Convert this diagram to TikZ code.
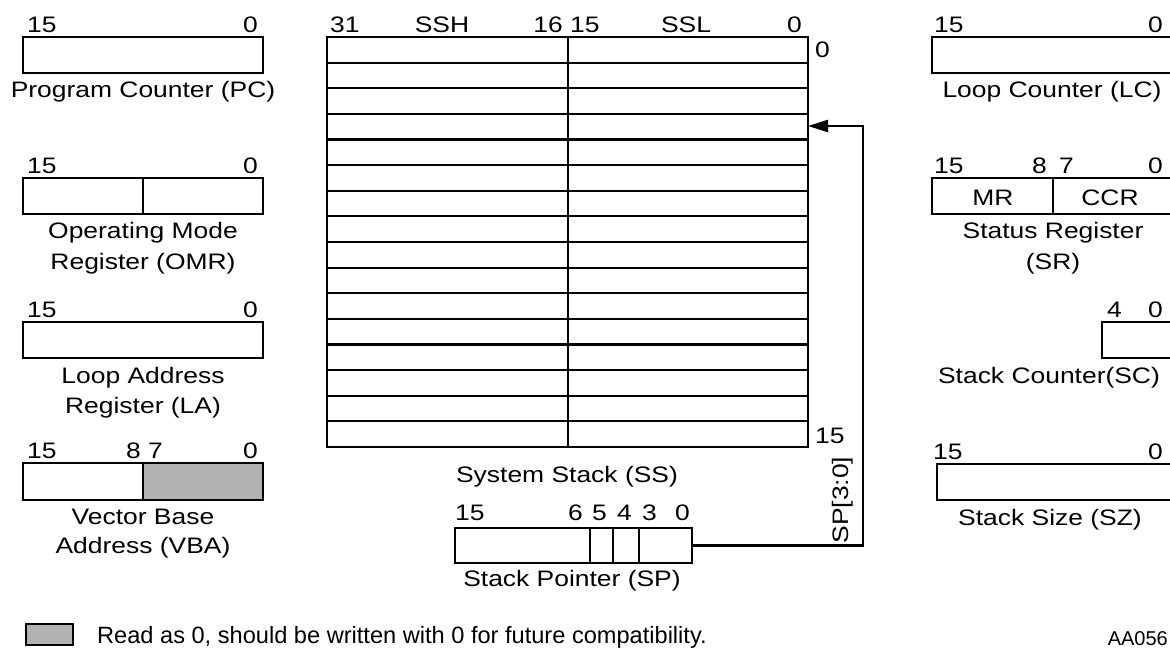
\documentclass[tikz,border=0pt]{standalone}
\usepackage{fontspec}
\setmainfont{Liberation Sans}[FakeStretch=1.18]
\newfontfamily\plainfont{Liberation Sans}
\usetikzlibrary{arrows.meta}
\definecolor{rdzero}{gray}{0.7}
\newcommand{\lab}{\fontsize{22.4}{26}\selectfont}
\tikzset{
  reg/.style={draw, line width=2.2pt, inner sep=0pt, outer sep=0pt, minimum height=36pt, anchor=north west},
  num/.style={inner sep=0pt, font=\lab},
  numl/.style={num, anchor=base west},
  numr/.style={num, anchor=base east},
  numc/.style={num, anchor=base},
  lbl/.style={inner sep=0pt, font=\lab, anchor=base},
  wire/.style={line width=2.2pt},
  conn/.style={line width=2.2pt, -{Triangle[length=20pt,width=12pt]}},
}
\begin{document}
\begin{tikzpicture}[x=1pt,y=-1pt]
\useasboundingbox (0,0) rectangle (1170,648);
\clip (0,0) rectangle (1170,648);
\fill[white] (0,0) rectangle (1170,648);

% ---------- left column ----------
% PC
\node[reg, minimum width=240pt] (pc) at (23,37) {};
\node[numl] (pc15) at (27,32) {15};
\node[numr] (pc0) at (258,32) {0};
\node[lbl] (pcl) at (143,97) {Program Counter (PC)};
% OMR
\node[reg, minimum width=240pt] (omr) at (23,178) {};
\draw[wire] (omr.north) -- (omr.south);
\node[numl] (omr15) at (27,173) {15};
\node[numr] (omr0) at (258,173) {0};
\node[lbl] (omrl1) at (143,238) {Operating Mode};
\node[lbl] (omrl2) at (143,269) {Register (OMR)};
% LA
\node[reg, minimum width=240pt] (la) at (23,322) {};
\node[numl] (la15) at (27,317) {15};
\node[numr] (la0) at (258,317) {0};
\node[lbl] (lal1) at (143,383) {Loop Address};
\node[lbl] (lal2) at (143,413) {Register (LA)};
% VBA
\fill[rdzero] (143,463) rectangle (263,500);
\node[reg, minimum width=240pt, minimum height=37pt] (vba) at (23,463) {};
\draw[wire] (vba.north) -- (vba.south);
\node[numl] (vba15) at (27,458) {15};
\node[numr] (vba8) at (141,458) {8};
\node[numl] (vba7) at (148,458) {7};
\node[numr] (vba0) at (258,458) {0};
\node[lbl] (vbal1) at (143,524) {Vector Base};
\node[lbl] (vbal2) at (143,553) {Address (VBA)};

% ---------- system stack ----------
\node[reg, minimum width=481pt, minimum height=410pt] (ss) at (327,37) {};
\foreach \k in {1,...,15} {
  \draw[wire] (327,{37+\k*25.625}) -- (808,{37+\k*25.625});
}
\draw[wire] (568,37) -- (568,447);
\node[numl] (ss31) at (330,32) {31};
\node[numc] (ssh) at (442,32) {SSH};
\node[numr] (ss16) at (563,32) {16};
\node[numl] (ss15) at (570,32) {15};
\node[numc] (ssl) at (686,32) {SSL};
\node[numr] (ss0) at (802,32) {0};
\node[numl] (row0) at (815,57) {0};
\node[numl] (row15) at (815,443) {15};
\node[lbl] (ssl1) at (567,482) {System Stack (SS)};

% ---------- stack pointer ----------
\node[reg, minimum width=237pt, minimum height=35pt] (sp) at (455,528) {};
\draw[wire] (590,528) -- (590,563);
\draw[wire] (613,528) -- (613,563);
\draw[wire] (639,528) -- (639,563);
\node[numl] (sp15) at (455,520) {15};
\node[numr] (sp6) at (583,520) {6};
\node[numr] (sp5) at (607,520) {5};
\node[numr] (sp4) at (632,520) {4};
\node[numr] (sp3) at (657,520) {3};
\node[numr] (sp0) at (690,520) {0};
\node[lbl] (spl) at (572,586) {Stack Pointer (SP)};

% connector SP -> SS
\coordinate (turn) at (863,126);
\coordinate (ssin) at (808,126);
\draw[conn] (sp.east) -| (turn) -- (ssin);
\node[num, rotate=90] (spbits) at (843,500) {SP[3:0]};

% ---------- right column ----------
% LC
\node[reg, minimum width=240pt] (lc) at (932,37) {};
\node[numl] (lc15) at (934,32) {15};
\node[numr] (lc0) at (1163,32) {0};
\node[lbl] (lcl) at (1052,97) {Loop Counter (LC)};
% SR
\node[reg, minimum width=240pt] (sr) at (932,178) {};
\draw[wire] (1053,178) -- (1053,214);
\node[numl] (sr15) at (934,173) {15};
\node[numr] (sr8) at (1047,173) {8};
\node[numl] (sr7) at (1059,173) {7};
\node[numr] (sr0) at (1163,173) {0};
\node[lbl] (mr) at (993,205) {MR};
\node[lbl] (ccr) at (1110,205) {CCR};
\node[lbl] (srl1) at (1053,238) {Status Register};
\node[lbl] (srl2) at (1053,269) {(SR)};
% SC
\node[reg, minimum width=72pt] (sc) at (1102,322) {};
\node[numl] (sc4) at (1107,317) {4};
\node[numr] (sc0) at (1163,317) {0};
\node[lbl] (scl) at (1049,383) {Stack Counter(SC)};
% SZ
\node[reg, minimum width=240pt] (sz) at (937,464) {};
\node[numl] (sz15) at (933,459) {15};
\node[numr] (sz0) at (1163,459) {0};
\node[lbl] (szl) at (1050,525) {Stack Size (SZ)};

% ---------- legend ----------
\node[draw, fill=rdzero, line width=2.2pt, inner sep=0pt, minimum width=47pt, minimum height=21pt, anchor=north west] (leg) at (25,623) {};
\node[inner sep=0pt, anchor=base west, font=\plainfont\fontsize{23.6}{27}\selectfont] (legt) at (97,643) {Read as 0, should be written with 0 for future compatibility.};
\node[inner sep=0pt, anchor=base east, font=\plainfont\fontsize{20}{24}\selectfont] (fig) at (1168,645) {AA056};
\end{tikzpicture}
\end{document}
